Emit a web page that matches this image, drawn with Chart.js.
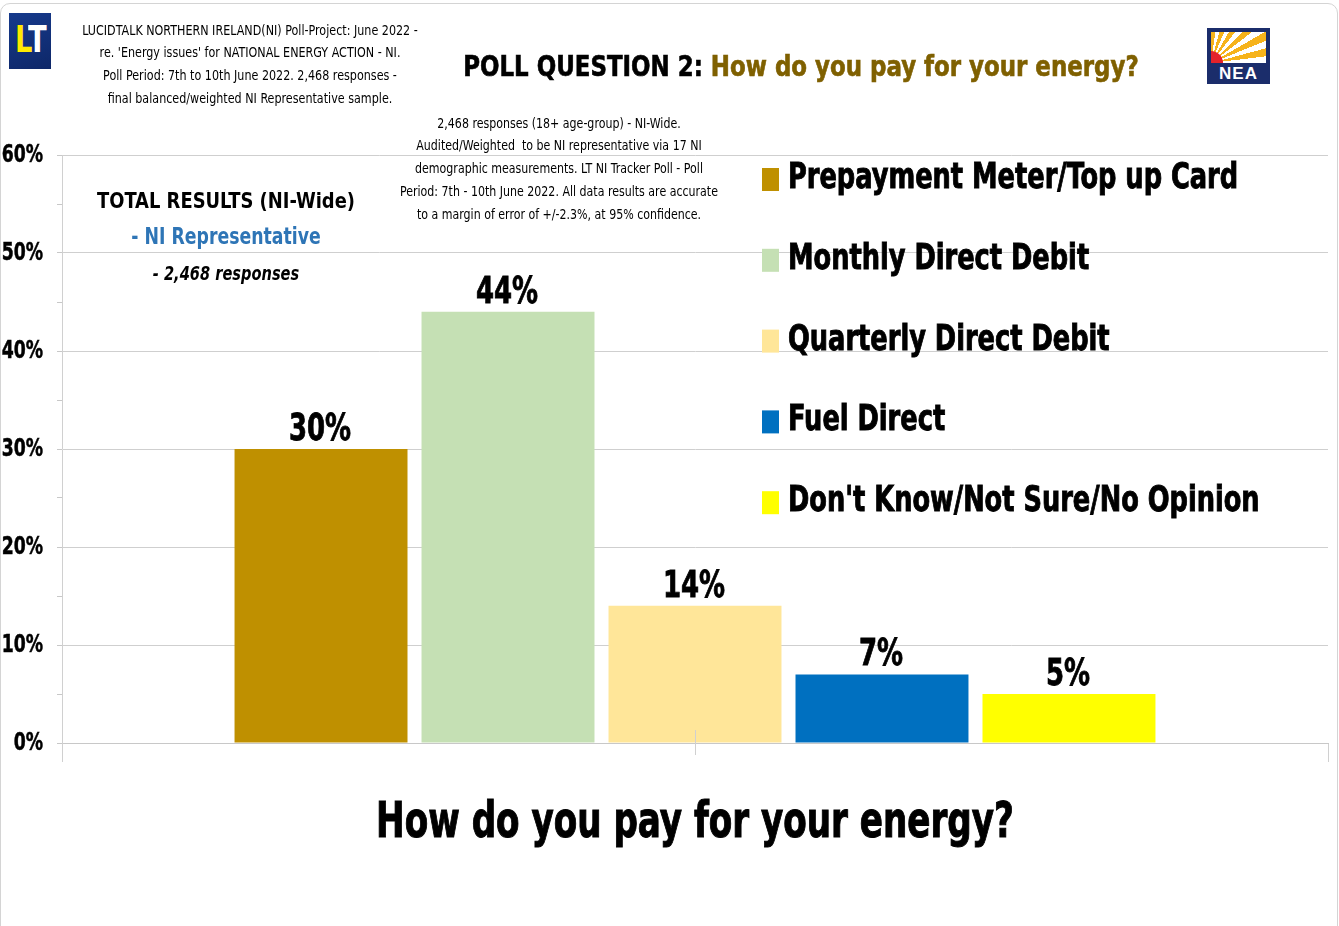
<!DOCTYPE html>
<html>
<head>
<meta charset="utf-8">
<script src="https://cdn.jsdelivr.net/npm/chart.js@4.4.0/dist/chart.umd.min.js"></script>
<style>
  html, body { margin: 0; padding: 0; background: #fff; }
  #wrap { position: relative; width: 1339px; height: 926px; overflow: hidden; }
  #frame { position: absolute; left: 0; top: 3px; width: 1336px; height: 960px; border: 1px solid #d4d4d4; border-radius: 10px; }
  #chartBox { position: absolute; left: 0; top: 0; width: 1339px; height: 926px; }
  .txt { position: absolute; text-align: center; white-space: nowrap; font-family: 'DejaVu Sans Condensed', 'DejaVu Sans', sans-serif; color: #000; transform-origin: 50% 50%; }
  .small { font-size: 14px; line-height: 22.7px; }
  .bold { font-weight: bold; }
  #lt { position: absolute; left: 9px; top: 13px; width: 42px; height: 56px; background: linear-gradient(160deg, #163a8c, #0e2768); overflow: hidden;
        font-family: 'DejaVu Sans Condensed', sans-serif; font-weight: bold; font-size: 38px; line-height: 38px; }
  #lt span { position: absolute; top: 7px; }
  #nea { position: absolute; left: 1207px; top: 28px; width: 63px; height: 56px; background: #1b2d6b; overflow: hidden; }
  #nea .rays { position: absolute; left: 4px; top: 4px; width: 55px; height: 31px; overflow: hidden;
               background: repeating-conic-gradient(from 0deg at 0% 100%, #f6b31b 0deg 8deg, #ffffff 8deg 15deg); }
  #nea .sun { position: absolute; left: -12px; top: 19px; width: 24px; height: 24px; border-radius: 50%; background: #e4222a; }
  #nea .lbl { position: absolute; left: 0; top: 35px; width: 63px; text-align: center; color: #fff; font-family: 'Liberation Sans', Arial, sans-serif; font-weight: bold; font-size: 17px; line-height: 21px; letter-spacing: 1px; }
</style>
</head>
<body>
<div id="wrap">
  <div id="frame"></div>
  <div id="chartBox"><canvas id="pollChart" width="1339" height="926"></canvas></div>

  <div id="lt"><span style="color:#ffea00; left:6px; transform:scaleX(0.8); transform-origin:0 0;">L</span><span style="color:#fff; left:19px; transform:scaleX(0.8); transform-origin:0 0;">T</span></div>

  <div class="txt small" style="left:50px; top:18.6px; width:400px; transform:scaleX(0.886);">
    LUCIDTALK NORTHERN IRELAND(NI) Poll-Project: June 2022 -<br>
    re. 'Energy issues' for NATIONAL ENERGY ACTION - NI.<br>
    Poll Period: 7th to 10th June 2022. 2,468 responses -<br>
    final balanced/weighted NI Representative sample.
  </div>

  <div class="txt bold" style="left:301px; top:50px; width:1000px; font-size:28px; line-height:34px; transform:scaleX(0.91); -webkit-text-stroke:0.6px;">
    POLL QUESTION 2: <span style="color:#7f6000">How do you pay for your energy?</span>
  </div>

  <div id="nea"><div class="rays"><div class="sun"></div></div><div class="lbl">NEA</div></div>

  <div class="txt small" style="left:359px; top:111.6px; width:400px; line-height:22.75px; transform:scaleX(0.876);">
    2,468 responses (18+ age-group) - NI-Wide.<br>
    Audited/Weighted&nbsp; to be NI representative via 17 NI<br>
    demographic measurements. LT NI Tracker Poll - Poll<br>
    Period: 7th - 10th June 2022. All data results are accurate<br>
    to a margin of error of +/-2.3%, at 95% confidence.
  </div>

  <div class="txt bold" style="left:26px; top:187px; width:400px; font-size:22px; line-height:28px; transform:scaleX(0.905);">TOTAL RESULTS (NI-Wide)</div>
  <div class="txt bold" style="left:26px; top:222px; width:400px; font-size:23px; line-height:28px; color:#2e75b6; transform:scaleX(0.836);">- NI Representative</div>
  <div class="txt bold" style="left:26px; top:261px; width:400px; font-size:19px; line-height:24px; font-style:italic; transform:scaleX(0.854);">- 2,468 responses</div>
</div>

<script>
  var categories = [''];
  var seriesNames = ['Prepayment Meter/Top up Card', 'Monthly Direct Debit', 'Quarterly Direct Debit', 'Fuel Direct', "Don't Know/Not Sure/No Opinion"];
  var seriesValues = [30, 44, 14, 7, 5];
  var seriesColors = ['#bf9000', '#c5e0b4', '#ffe699', '#0070c0', '#ffff00'];
  var yMin = 0, yMax = 60, yStep = 5, yLabelStep = 10;
  var xTitle = 'How do you pay for your energy?';

  var FONT = "'DejaVu Sans Condensed', 'DejaVu Sans', sans-serif";

  /* squeeze text horizontally to look like a narrow font; optional stroke to thicken */
  function narrowText(ctx, text, x, y, sx, heavy) {
    ctx.save();
    ctx.translate(x, y);
    ctx.scale(sx, 1);
    ctx.fillText(text, 0, 0);
    if (heavy) {
      ctx.lineWidth = heavy;
      ctx.strokeStyle = ctx.fillStyle;
      ctx.strokeText(text, 0, 0);
    }
    ctx.restore();
  }

  /* value labels on top of the bars */
  var barLabels = {
    id: 'barLabels',
    afterDatasetsDraw: function(chart) {
      var ctx = chart.ctx;
      ctx.save();
      ctx.font = 'bold 38px ' + FONT;
      ctx.fillStyle = '#000';
      ctx.textAlign = 'center';
      ctx.textBaseline = 'alphabetic';
      chart.data.datasets.forEach(function(ds, i) {
        chart.getDatasetMeta(i).data.forEach(function(bar, j) {
          narrowText(ctx, ds.data[j] + '%', bar.x - 1, bar.y - 9, 0.76, 0.8);
        });
      });
      ctx.restore();
    }
  };

  /* y labels, x title, legend inside the plot */
  var extras = {
    id: 'extras',
    afterDraw: function(chart) {
      var ctx = chart.ctx;
      var ys = chart.scales.y, xs = chart.scales.x, area = chart.chartArea;
      ctx.save();
      ctx.fillStyle = '#000';

      ctx.font = 'bold 24px ' + FONT;
      ctx.textAlign = 'right';
      ctx.textBaseline = 'middle';
      ys.ticks.forEach(function(t) {
        if (t.value % yLabelStep !== 0) return;
        narrowText(ctx, t.value + '%', 43, ys.getPixelForValue(t.value) + 1, 0.8, 0.5);
      });

      ctx.font = 'bold 49px ' + FONT;
      ctx.textAlign = 'center';
      ctx.textBaseline = 'alphabetic';
      narrowText(ctx, xTitle, (area.left + area.right) / 2, 837, 0.775, 1);

      var x0 = 762, y0 = 179, step = 80.8;
      ctx.font = 'bold 35px ' + FONT;
      ctx.textBaseline = 'middle';
      ctx.textAlign = 'left';
      chart.data.datasets.forEach(function(ds, i) {
        var y = y0 + i * step;
        ctx.fillStyle = ds.backgroundColor;
        ctx.fillRect(x0, y - 11, 17, 23);
        ctx.fillStyle = '#000';
        narrowText(ctx, ds.label, x0 + 26, y, 0.815, 0.9);
      });

      /* stray tick in the middle of the category axis */
      var cx = Math.round(xs.getPixelForValue(0)) + 0.5;
      ctx.strokeStyle = '#d0d0d0';
      ctx.lineWidth = 1;
      ctx.beginPath();
      ctx.moveTo(cx, area.bottom - 13);
      ctx.lineTo(cx, area.bottom + 12);
      ctx.stroke();
      ctx.restore();
    }
  };

  new Chart(document.getElementById('pollChart'), {
    type: 'bar',
    data: {
      labels: categories,
      datasets: seriesNames.map(function(name, i) {
        return {
          label: name,
          data: [seriesValues[i]],
          backgroundColor: seriesColors[i],
          borderWidth: 0,
          categoryPercentage: 0.7385,
          barPercentage: 0.925
        };
      })
    },
    options: {
      responsive: false,
      animation: false,
      layout: { padding: { top: 155, right: 11, left: 0, bottom: 0 } },
      plugins: {
        legend: { display: false },
        tooltip: { enabled: false }
      },
      scales: {
        x: {
          offset: true,
          grid: { drawOnChartArea: false, color: '#d0d0d0', tickLength: 19, offset: true },
          border: { color: '#c8c8c8' },
          ticks: { display: false },
          afterFit: function(scale) { scale.height = 183; }
        },
        y: {
          min: yMin,
          max: yMax,
          border: { color: '#d0d0d0' },
          grid: {
            color: function(c) { return c.tick && c.tick.value % yLabelStep === 0 ? '#cfcfcf' : 'rgba(0,0,0,0)'; },
            tickColor: '#c8c8c8',
            tickLength: 5
          },
          ticks: { stepSize: yStep, display: false },
          afterFit: function(scale) { scale.width = 62; }
        }
      }
    },
    plugins: [barLabels, extras]
  });
</script>
</body>
</html>
